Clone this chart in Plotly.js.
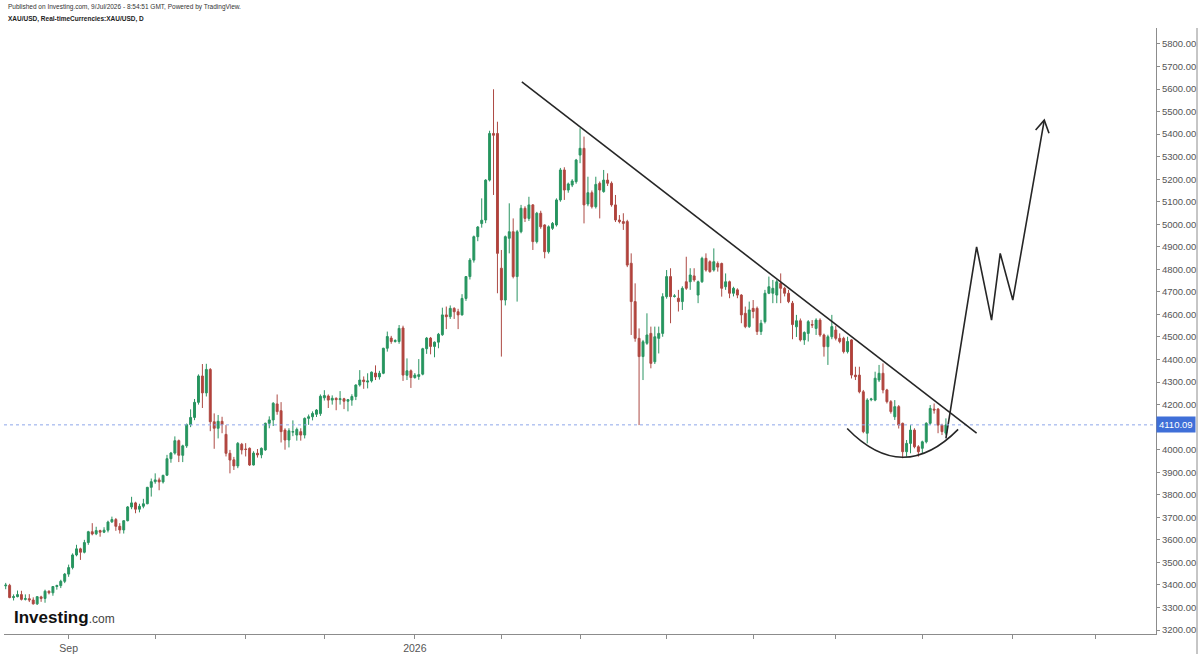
<!DOCTYPE html>
<html>
<head>
<meta charset="utf-8">
<script src="https://cdn.plot.ly/plotly-3.0.1.min.js"></script>
<style>html,body{margin:0;padding:0;background:#fff;}#chart{width:1200px;height:654px;}</style>
</head>
<body>
<div id="chart"></div>
<script>
// Daily bars, index 0 = 8 Aug 2025 ... index 239 = 9 Jul 2026 (weekdays)
const openP = [
3396,3398,3344,3348,3357,3336,3339,3333,3316,3347,
3340,3372,3365,3393,3397,3416,3448,3477,3533,3560,
3545,3588,3636,3627,3641,3634,3643,3680,3690,3660,
3644,3685,3746,3764,3736,3749,3760,3833,3858,3866,
3857,3887,3960,3985,4040,3975,4017,4111,4143,4210,
4327,4252,4356,4124,4095,4126,4068,3984,3955,3928,
4024,4003,4006,3932,3984,3977,3999,4117,4132,4203,
4173,4087,4043,4078,4065,4080,4065,4139,4146,4157,
4160,4230,4238,4220,4228,4222,4226,4215,4220,4236,
4287,4309,4300,4305,4340,4323,4339,4450,4495,4480,
4480,4540,4330,4350,4320,4325,4335,4448,4495,4458,
4477,4510,4598,4590,4627,4612,4598,4671,4768,4841,
4945,5003,5019,5196,5403,5403,4805,4664,4938,4967,
4768,4967,5071,5026,5086,4923,5049,4997,4878,4982,
4997,5108,5241,5152,5174,5189,5307,5337,5090,5140,
5078,5182,5145,5196,5182,5086,5019,5012,5012,4827,
4657,4494,4413,4472,4516,4390,4494,4516,4679,4768,
4680,4672,4657,4745,4745,4771,4686,4745,4849,4834,
4797,4826,4826,4723,4745,4694,4709,4686,4605,4546,
4627,4627,4524,4568,4694,4694,4686,4738,4716,4694,
4650,4545,4572,4487,4516,4555,4538,4575,4509,4457,
4501,4531,4494,4494,4435,4487,4331,4331,4257,4073,
4222,4220,4309,4339,4265,4213,4146,4191,4117,3991,
4028,4087,4013,4006,4035,4117,4180,4180,4109,4073
];
const highP = [
3409,3405,3358,3375,3374,3358,3359,3345,3350,3352,
3379,3376,3394,3401,3423,3453,3490,3540,3578,3565,
3600,3640,3674,3658,3645,3656,3685,3703,3697,3674,
3687,3750,3791,3769,3760,3782,3835,3872,3895,3876,
3889,3977,3990,4059,4045,4022,4116,4179,4225,4334,
4380,4381,4362,4161,4154,4146,4109,3999,3968,4034,
4030,4029,4010,3993,4003,4010,4120,4148,4211,4245,
4211,4095,4095,4130,4098,4095,4143,4156,4170,4180,
4245,4264,4245,4241,4232,4260,4230,4225,4246,4290,
4353,4325,4339,4347,4374,4350,4452,4524,4505,4490,
4553,4550,4405,4356,4340,4402,4452,4500,4500,4480,
4518,4630,4635,4640,4632,4625,4690,4770,4850,4950,
4992,5115,5200,5415,5599,5455,4886,4950,5093,5026,
4975,5086,5080,5122,5090,5055,5060,5000,4995,5010,
5115,5250,5253,5185,5200,5290,5426,5389,5211,5150,
5211,5190,5241,5226,5190,5130,5041,5049,5020,4871,
4738,4538,4487,4605,4546,4546,4546,4694,4797,4805,
4690,4709,4725,4856,4805,4805,4750,4856,4871,4840,
4893,4835,4830,4782,4750,4723,4716,4690,4635,4657,
4664,4635,4576,4709,4768,4753,4753,4782,4723,4709,
4660,4598,4582,4525,4575,4575,4583,4583,4515,4510,
4598,4550,4516,4501,4501,4490,4368,4368,4265,4228,
4230,4346,4376,4383,4270,4220,4220,4198,4120,4043,
4109,4095,4020,4040,4122,4198,4205,4185,4115,4139
];
const lowP = [
3381,3341,3331,3345,3331,3331,3324,3313,3311,3325,
3321,3358,3352,3379,3386,3408,3436,3469,3527,3511,
3540,3578,3620,3621,3614,3630,3633,3675,3640,3628,
3628,3682,3736,3718,3722,3740,3758,3792,3849,3820,
3850,3883,3942,3978,3945,3945,4008,4100,4131,4200,
4185,4236,4082,4004,4050,4073,3970,3895,3910,3918,
3979,3970,3928,3930,3965,3962,3995,4095,4105,4155,
4032,4000,4010,4060,4040,4040,4050,4110,4130,4145,
4150,4218,4185,4200,4175,4200,4180,4170,4195,4220,
4280,4270,4272,4298,4309,4311,4335,4435,4470,4475,
4470,4305,4309,4274,4315,4310,4330,4425,4423,4410,
4450,4505,4535,4580,4580,4535,4595,4660,4755,4830,
4925,4985,5005,5190,5130,4694,4413,4640,4871,4760,
4657,4960,5010,5015,4886,4915,4980,4849,4870,4975,
4990,5100,5108,5140,5165,5180,5271,5004,5080,5070,
5070,5026,5140,5170,5078,5010,5004,4975,4810,4509,
4479,4109,4309,4465,4361,4380,4427,4501,4670,4561,
4675,4613,4620,4709,4709,4745,4650,4740,4790,4785,
4790,4790,4679,4709,4672,4680,4672,4561,4539,4540,
4583,4509,4509,4560,4690,4650,4650,4650,4680,4650,
4490,4500,4480,4465,4480,4540,4509,4501,4413,4376,
4490,4485,4472,4427,4427,4316,4309,4250,4073,4028,
4215,4215,4300,4250,4205,4160,4132,4094,3962,3969,
3984,4006,3969,3984,4028,4110,4160,4073,4065,4065
];
const closeP = [
3399,3344,3348,3357,3336,3339,3333,3316,3348,3340,
3372,3365,3393,3397,3416,3448,3477,3533,3560,3545,
3588,3636,3626,3641,3634,3643,3679,3690,3660,3644,
3685,3746,3764,3736,3749,3760,3833,3858,3866,3857,
3886,3960,3985,4040,3975,4017,4111,4143,4210,4327,
4252,4356,4124,4095,4126,4111,3984,3954,3928,4028,
3999,4001,3932,3985,3977,4006,4117,4132,4206,4169,
4080,4043,4084,4080,4090,4065,4139,4146,4161,4176,
4237,4240,4220,4228,4222,4226,4215,4222,4236,4287,
4309,4302,4305,4344,4323,4339,4450,4502,4480,4484,
4538,4331,4350,4320,4331,4333,4448,4495,4458,4477,
4512,4598,4590,4627,4612,4598,4671,4768,4841,4945,
4988,5018,5196,5403,5395,4871,4664,4945,4967,4768,
4967,5071,5026,5086,4923,5049,4989,4878,4989,5004,
5108,5241,5152,5179,5192,5285,5337,5086,5140,5078,
5177,5152,5196,5182,5086,5019,5012,5004,4819,4657,
4494,4413,4479,4509,4383,4501,4516,4679,4768,4679,
4682,4657,4716,4716,4775,4753,4745,4849,4797,4790,
4834,4810,4716,4745,4694,4716,4686,4598,4546,4620,
4613,4524,4561,4694,4723,4716,4745,4716,4694,4657,
4555,4572,4487,4520,4568,4553,4575,4509,4457,4501,
4546,4494,4480,4435,4480,4331,4324,4257,4080,4220,
4225,4317,4339,4265,4213,4169,4191,4109,3991,4028,
4087,4013,3991,4035,4117,4183,4176,4109,4080,4110.09
];
const barIndex = openP.map((_, i) => i);

// Month-start ticks (bar index) and their labels
const monthTickIdx  = [16, 38, 61, 81, 104, 126, 146, 168, 190, 211, 233, 256, 277];
const monthTickText = ['Sep', '', '', '', '2026', '', '', '', '', '', '', '', ''];

// Price-axis ticks (4100 is hidden behind the last-price label)
const priceTicks = [3200, 3300, 3400, 3500, 3600, 3700, 3800, 3900, 4000, 4200, 4300, 4400,
                    4500, 4600, 4700, 4800, 4900, 5000, 5100, 5200, 5300, 5400, 5500, 5600, 5700, 5800];
const priceTickText = priceTicks.map(v => v.toFixed(2));

const lastPrice = 4110.09;

// Drawn annotations (bar index, price)
const trendX = [131.2, 246.8];
const trendY = [5632, 4073];
const cupX = [213.9, 228.0, 242.1];      // start, control, end
const cupY = [4094, 3841, 4090];
const projX = [239.0, 246.8, 250.6, 252.8, 256.0, 264.0];
const projY = [4050, 4900, 4575, 4871, 4664, 5462];
const arrowX = [261.8, 264.0, 265.2];
const arrowY = [5418, 5462, 5404];

const traces = [
  {
    type: 'candlestick',
    x: barIndex, open: openP, high: highP, low: lowP, close: closeP,
    increasing: {line: {color: '#2a9462', width: 1}, fillcolor: '#23985c'},
    decreasing: {line: {color: '#ad4a44', width: 1}, fillcolor: '#b83e37'},
    whiskerwidth: 0,
    hoverinfo: 'skip'
  },
  {
    type: 'scatter', mode: 'lines', x: projX, y: projY,
    line: {color: '#262626', width: 1.6}, hoverinfo: 'skip'
  },
  {
    type: 'scatter', mode: 'lines', x: arrowX, y: arrowY,
    line: {color: '#262626', width: 1.6}, hoverinfo: 'skip'
  }
];

const axisGrey = '#8c8c8c';
const layout = {
  width: 1200, height: 654,
  margin: {l: 4, r: 44, t: 28, b: 20},
  paper_bgcolor: '#ffffff', plot_bgcolor: '#ffffff',
  showlegend: false,
  hovermode: false,
  font: {family: 'Arial, "Liberation Sans", sans-serif'},
  xaxis: {
    range: [-0.432, 292.4],
    showgrid: false, zeroline: false,
    showline: true, linecolor: axisGrey, linewidth: 1,
    ticks: 'outside', ticklen: 4, tickcolor: axisGrey,
    tickmode: 'array', tickvals: monthTickIdx, ticktext: monthTickText,
    tickfont: {size: 10.5, color: '#555'},
    rangeslider: {visible: false}, fixedrange: true
  },
  yaxis: {
    side: 'right',
    range: [3182.3, 5870.8],
    tickmode: 'array', tickvals: priceTicks, ticktext: priceTickText,
    showgrid: false, zeroline: false,
    showline: true, linecolor: axisGrey, linewidth: 1,
    ticks: 'outside', ticklen: 3, tickcolor: axisGrey,
    tickfont: {size: 9.5, color: '#555'},
    fixedrange: true
  },
  shapes: [
    {type: 'line', xref: 'paper', yref: 'y', x0: 0, x1: 1, y0: lastPrice, y1: lastPrice,
     line: {color: '#8ea6ea', width: 1, dash: 'dot'}},
    {type: 'line', xref: 'x', yref: 'y', x0: trendX[0], x1: trendX[1], y0: trendY[0], y1: trendY[1],
     line: {color: '#262626', width: 1.6}},
    {type: 'path', xref: 'x', yref: 'y',
     path: 'M ' + cupX[0] + ',' + cupY[0] + ' Q ' + cupX[1] + ',' + cupY[1] + ' ' + cupX[2] + ',' + cupY[2],
     line: {color: '#262626', width: 1.6}},
    {type: 'line', xref: 'paper', yref: 'paper', x0: 1.0356, x1: 1.0356, y0: -0.034, y1: 1,
     line: {color: axisGrey, width: 1}}
  ],
  annotations: [
    {xref: 'paper', yref: 'paper', x: 0.0017, y: 1.0347, xanchor: 'left', yanchor: 'middle',
     showarrow: false, text: 'Published on Investing.com, 9/Jul/2026 - 8:54:51 GMT, Powered by TradingView.',
     font: {size: 6.5, color: '#333'}},
    {xref: 'paper', yref: 'paper', x: 0.0017, y: 1.0149, xanchor: 'left', yanchor: 'middle',
     showarrow: false, text: '<b>XAU/USD, Real-timeCurrencies:XAU/USD, D</b>',
     font: {size: 6.5, color: '#222'}},
    {xref: 'paper', yref: 'y', x: 1, y: lastPrice, xanchor: 'left', yanchor: 'middle',
     showarrow: false, text: lastPrice.toFixed(2), bgcolor: '#3f6fd8', borderpad: 2,
     font: {size: 9.5, color: '#ffffff'}},
    {xref: 'paper', yref: 'paper', x: 0.007, y: 0.028, xanchor: 'left', yanchor: 'middle',
     showarrow: false,
     text: '<b>Investing</b><span style="font-size:12px;color:#444">.com</span>',
     font: {size: 17, color: '#111'}}
  ]
};

Plotly.newPlot('chart', traces, layout, {displayModeBar: false, staticPlot: true});
</script>
</body>
</html>
